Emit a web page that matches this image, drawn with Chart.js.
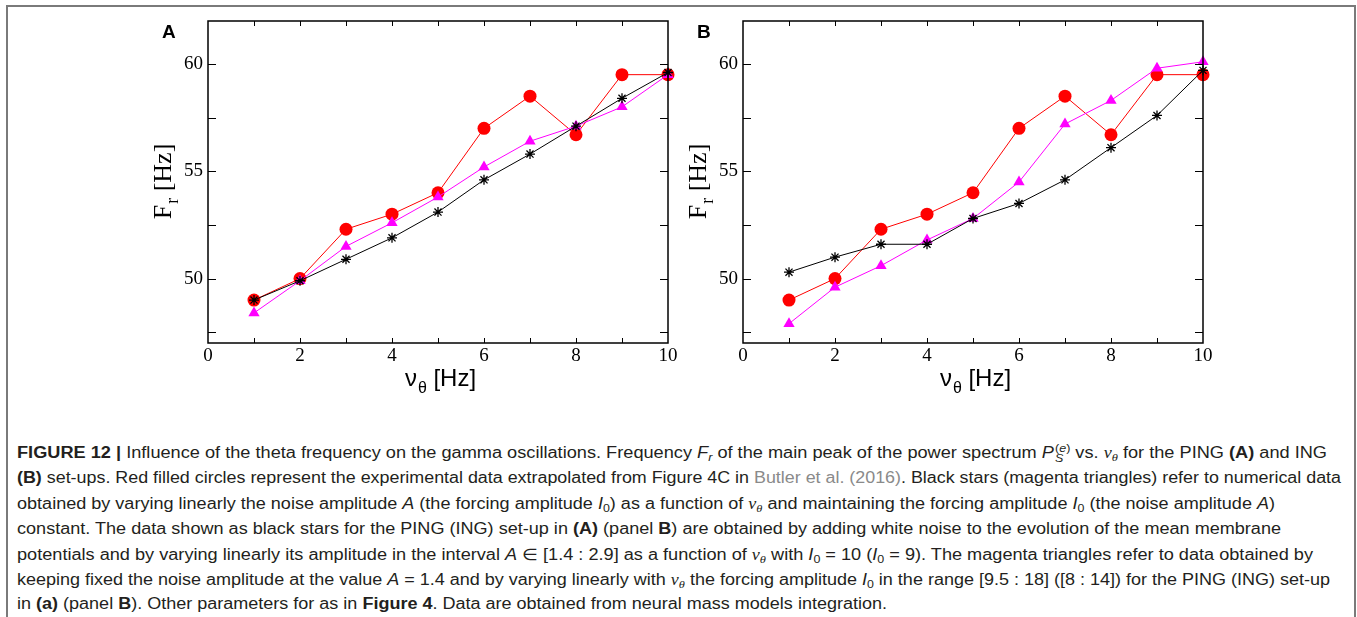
<!DOCTYPE html>
<html>
<head>
<meta charset="utf-8">
<script src="https://cdn.jsdelivr.net/npm/chart.js@4.4.1/dist/chart.umd.min.js"></script>
<style>
  html, body { margin: 0; padding: 0; background: #fff; }
  body { width: 1357px; height: 617px; position: relative; overflow: hidden; }
  .frame { position: absolute; left: 6px; top: 5px; width: 1346px; height: 700px; border: 2px solid #7a7a7a; border-bottom: none; }
  canvas { position: absolute; top: 0; }
  #chartA { left: 100px; }
  #chartB { left: 635px; }
  .cap { position: absolute; left: 17px; white-space: nowrap; font-family: "Liberation Sans Narrow", "Liberation Sans", Arial, sans-serif;
         font-size: 16px; line-height: 20px; color: #231f20; transform-origin: 0 50%; }
  .cap b { font-weight: bold; }
  .m { font-family: "Liberation Serif", serif; font-style: italic; }
  .cap sub { font-size: 11px; vertical-align: -3px; line-height: 0; }
  .link { color: #8a8a8a; }
  .ss { display: inline-flex; flex-direction: column; font-size: 11px; line-height: 10px; vertical-align: 6px; margin-left: 1px; }
</style>
</head>
<body>
<div class="frame"></div>
<canvas id="chartA" width="590" height="400"></canvas>
<canvas id="chartB" width="590" height="400"></canvas>

<div class="cap" style="top:443px"><b>FIGURE 12 |</b> Influence of the theta frequency on the gamma oscillations. Frequency <i>F<sub>r</sub></i> of the main peak of the power spectrum <i>P</i><span class="ss"><span>(<i>e</i>)</span><span><i>S</i></span></span> vs. <span class="m">ν<sub>θ</sub></span> for the PING <b>(A)</b> and ING</div>
<div class="cap" style="top:468px"><b>(B)</b> set-ups. Red filled circles represent the experimental data extrapolated from Figure 4C in <span class="link">Butler et al. (2016)</span>. Black stars (magenta triangles) refer to numerical data</div>
<div class="cap" style="top:494px">obtained by varying linearly the noise amplitude <i>A</i> (the forcing amplitude <i>I</i><sub>0</sub>) as a function of <span class="m">ν<sub>θ</sub></span> and maintaining the forcing amplitude <i>I</i><sub>0</sub> (the noise amplitude <i>A</i>)</div>
<div class="cap" style="top:519px">constant. The data shown as black stars for the PING (ING) set-up in <b>(A)</b> (panel <b>B</b>) are obtained by adding white noise to the evolution of the mean membrane</div>
<div class="cap" style="top:545px">potentials and by varying linearly its amplitude in the interval <i>A</i> ∈ [1.4 : 2.9] as a function of <span class="m">ν<sub>θ</sub></span> with <i>I</i><sub>0</sub> = 10 (<i>I</i><sub>0</sub> = 9). The magenta triangles refer to data obtained by</div>
<div class="cap" style="top:570px">keeping fixed the noise amplitude at the value <i>A</i> = 1.4 and by varying linearly with <span class="m">ν<sub>θ</sub></span> the forcing amplitude <i>I</i><sub>0</sub> in the range [9.5 : 18] ([8 : 14]) for the PING (ING) set-up</div>
<div class="cap" style="top:594px">in <b>(a)</b> (panel <b>B</b>). Other parameters for as in <b>Figure 4</b>. Data are obtained from neural mass models integration.</div>

<script>
// x values (theta frequency, Hz)
const thetaFreq = [1, 2, 3, 4, 5, 6, 7, 8, 9, 10];

// panel A (PING)
const redA     = [49.0, 50.0, 52.3, 53.0, 54.0, 57.0, 58.5, 56.7, 59.5, 59.5];
const magentaA = [48.4, 49.9, 51.5, 52.6, 53.8, 55.2, 56.4, 57.1, 58.0, 59.5];
const blackA   = [49.0, 49.9, 50.9, 51.9, 53.1, 54.6, 55.8, 57.1, 58.4, 59.6];

// panel B (ING)
const redB     = [49.0, 50.0, 52.3, 53.0, 54.0, 57.0, 58.5, 56.7, 59.5, 59.5];
const magentaB = [47.9, 49.6, 50.6, 51.8, 52.8, 54.5, 57.2, 58.3, 59.8, 60.1];
const blackB   = [50.3, 51.0, 51.6, 51.6, 52.8, 53.5, 54.6, 56.1, 57.6, 59.7];

// axis ticks
const xTickLabels = [0, 2, 4, 6, 8, 10];
const yTickLabels = [50, 55, 60];
const xTickMarks = [1, 2, 3, 4, 5, 6, 7, 8, 9];
const yTickMarks = [47.5, 50, 52.5, 55, 57.5, 60];

const toPoints = vals => thetaFreq.map((f, i) => ({ x: f, y: vals[i] }));

// frame with inward ticks on all four sides
const frameTicks = {
    id: 'frameTicks',
    afterDraw(chart) {
        const { ctx, chartArea: a, scales: { x, y } } = chart;
        ctx.save();
        ctx.strokeStyle = '#000';
        ctx.lineWidth = 1.5;
        ctx.strokeRect(a.left, a.top, a.right - a.left, a.bottom - a.top);
        ctx.lineWidth = 1;
        ctx.beginPath();
        xTickMarks.forEach(v => {
            const px = Math.round(x.getPixelForValue(v)) + 0.5;
            ctx.moveTo(px, a.bottom); ctx.lineTo(px, a.bottom - 5);
            ctx.moveTo(px, a.top); ctx.lineTo(px, a.top + 5);
        });
        yTickMarks.forEach(v => {
            const py = Math.round(y.getPixelForValue(v)) + 0.5;
            ctx.moveTo(a.left, py); ctx.lineTo(a.left + 8, py);
            ctx.moveTo(a.right, py); ctx.lineTo(a.right - 8, py);
        });
        ctx.stroke();
        ctx.restore();
    }
};

// panel letter + axis titles with subscripts
const panelText = {
    id: 'panelText',
    afterDraw(chart, args, opts) {
        const { ctx, chartArea: a } = chart;
        ctx.save();
        ctx.fillStyle = '#000';
        ctx.textBaseline = 'alphabetic';
        ctx.textAlign = 'left';

        ctx.font = 'bold 19px "Liberation Sans"';
        ctx.fillText(opts.letter, a.left - 46, a.top + 17);

        // x title: ν_θ [Hz]
        let big = '24px "Liberation Sans"', small = '16px "Liberation Sans"';
        ctx.font = big; const wNu = ctx.measureText('ν').width;
        ctx.font = small; const wTh = ctx.measureText('θ').width;
        ctx.font = big; const wHz = ctx.measureText(' [Hz]').width;
        let x0 = (a.left + a.right) / 2 + 2 - (wNu + wTh + wHz) / 2;
        const by = a.bottom + 43;
        ctx.font = big; ctx.fillText('ν', x0, by);
        ctx.font = small; ctx.fillText('θ', x0 + wNu + 1, by + 7);
        ctx.font = big; ctx.fillText(' [Hz]', x0 + wNu + wTh + 1, by);

        // y title: F_r [Hz], rotated
        ctx.translate(a.left - 46, (a.top + a.bottom) / 2);
        ctx.rotate(-Math.PI / 2);
        big = '26px "Liberation Serif"'; small = '18px "Liberation Serif"';
        ctx.font = big; const wF = ctx.measureText('F').width;
        ctx.font = small; const wr = ctx.measureText('r').width;
        ctx.font = big; const wH = ctx.measureText(' [Hz]').width;
        x0 = -(wF + wr + wH) / 2;
        ctx.font = big; ctx.fillText('F', x0, 9);
        ctx.font = small; ctx.fillText('r', x0 + wF + 1, 16);
        ctx.font = big; ctx.fillText(' [Hz]', x0 + wF + wr + 1, 9);
        ctx.restore();
    }
};

function makeChart(id, letter, red, magenta, black) {
    const ctx = document.getElementById(id).getContext('2d');
    return new Chart(ctx, {
        type: 'line',
        data: {
            datasets: [{
                label: 'stars',
                data: toPoints(black),
                borderColor: '#000',
                backgroundColor: '#000',
                borderWidth: 1,
                pointStyle: 'star',
                pointRadius: 5,
                pointBorderWidth: 1.3,
                clip: false
            }, {
                label: 'triangles',
                data: toPoints(magenta),
                borderColor: '#ff00ff',
                backgroundColor: '#ff00ff',
                borderWidth: 1,
                pointStyle: 'triangle',
                pointRadius: 6.5,
                pointBorderWidth: 0,
                clip: false
            }, {
                label: 'circles',
                data: toPoints(red),
                borderColor: '#ff0000',
                backgroundColor: '#ff0000',
                borderWidth: 1,
                pointStyle: 'circle',
                pointRadius: 6.5,
                pointBorderWidth: 0,
                clip: false
            }]
        },
        options: {
            responsive: false,
            animation: false,
            layout: { padding: { top: 21, right: 22, left: 0, bottom: 0 } },
            plugins: {
                legend: { display: false },
                tooltip: { enabled: false },
                panelText: { letter: letter }
            },
            scales: {
                x: {
                    type: 'linear',
                    min: 0,
                    max: 10,
                    grid: { display: false, drawTicks: false },
                    border: { display: false },
                    ticks: { color: '#000', padding: 2, maxRotation: 0, font: { family: 'Liberation Serif', size: 19 } },
                    afterBuildTicks: s => { s.ticks = xTickLabels.map(v => ({ value: v })); },
                    afterFit: s => { s.height = 57; }
                },
                y: {
                    min: 47,
                    max: 62,
                    grid: { display: false, drawTicks: false },
                    border: { display: false },
                    ticks: { color: '#000', padding: 5, font: { family: 'Liberation Serif', size: 19 } },
                    afterBuildTicks: s => { s.ticks = yTickLabels.map(v => ({ value: v })); },
                    afterFit: s => { s.width = 108; }
                }
            }
        },
        plugins: [frameTicks, panelText]
    });
}

makeChart('chartA', 'A', redA, magentaA, blackA);
makeChart('chartB', 'B', redB, magentaB, blackB);

// squeeze caption lines to the widths of the printed figure
const capEnds = [1327, 1341, 1275, 1281, 1313, 1330, 887];
document.querySelectorAll('.cap').forEach((el, i) => {
    const w = el.getBoundingClientRect().width;
    el.style.transform = 'scaleX(' + ((capEnds[i] - 17) / w) + ')';
});
</script>
</body>
</html>
